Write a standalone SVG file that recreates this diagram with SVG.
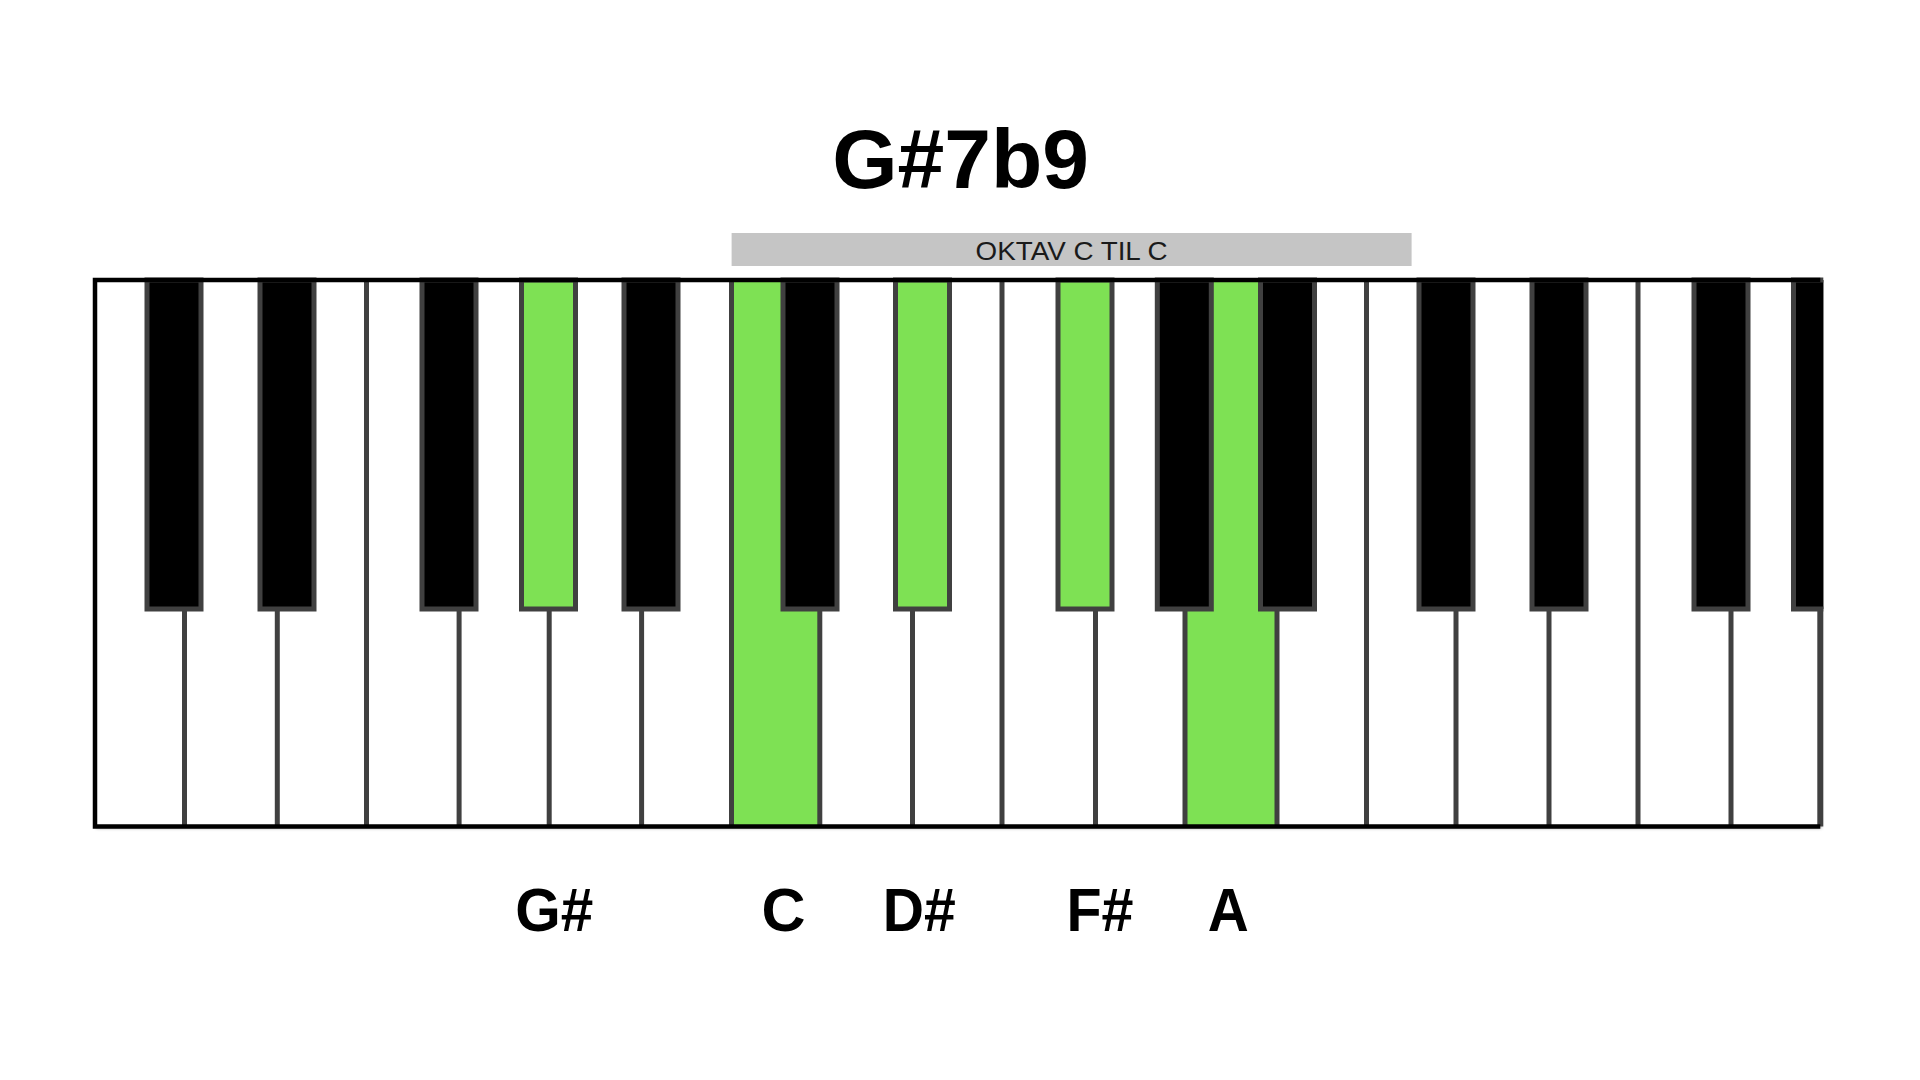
<svg xmlns="http://www.w3.org/2000/svg" width="1920" height="1080" viewBox="0 0 1920 1080">
<defs>
<style>
.title{font-family:"Liberation Sans",Arial,sans-serif;font-weight:bold;font-size:84px;fill:#000;text-anchor:middle}
.bartext{font-family:"Liberation Sans",Arial,sans-serif;font-size:26.5px;fill:#1a1a1a;text-anchor:middle}
.note{font-family:"Liberation Sans",Arial,sans-serif;font-weight:bold;font-size:62px;fill:#000;text-anchor:middle}
.div{stroke:#404040;stroke-width:5}
.bk{fill:#000;stroke:#404040;stroke-width:5}
.on{fill:#7ee154}
</style>
<filter id="sh" x="-2%" y="-3%" width="104%" height="108%">
<feDropShadow dx="1" dy="2" stdDeviation="1.5" flood-color="#000" flood-opacity="0.35"/>
</filter>
<clipPath id="kb"><rect x="90" y="270" width="1733.3" height="570"/></clipPath>
</defs>
<rect width="1920" height="1080" fill="#fff"/>

<g id="title"><text class="title" x="960.7" y="188">G#7b9</text></g>

<g id="octave-bar">
<rect x="731.6" y="233" width="680" height="33" fill="#c5c5c5"/>
<text class="bartext" x="1071.6" y="260" textLength="192" lengthAdjust="spacingAndGlyphs">OKTAV C TIL C</text>
</g>

<g id="keyboard">
<rect x="95" y="280" width="1725.3" height="546.5" fill="#fff" filter="url(#sh)"/>
<g id="white-keys-highlighted">
<rect id="key-C" class="on" x="731.5" y="280" width="88.3" height="546.5"/>
<rect id="key-A" class="on" x="1185" y="280" width="92" height="546.5"/>
</g>
<g id="white-key-dividers">
<line class="div" x1="184.5" y1="280" x2="184.5" y2="826.5"/>
<line class="div" x1="277.3" y1="280" x2="277.3" y2="826.5"/>
<line class="div" x1="366.5" y1="280" x2="366.5" y2="826.5"/>
<line class="div" x1="459.1" y1="280" x2="459.1" y2="826.5"/>
<line class="div" x1="549.2" y1="280" x2="549.2" y2="826.5"/>
<line class="div" x1="641.6" y1="280" x2="641.6" y2="826.5"/>
<line class="div" x1="731.5" y1="280" x2="731.5" y2="826.5"/>
<line class="div" x1="819.8" y1="280" x2="819.8" y2="826.5"/>
<line class="div" x1="912.5" y1="280" x2="912.5" y2="826.5"/>
<line class="div" x1="1002" y1="280" x2="1002" y2="826.5"/>
<line class="div" x1="1095.5" y1="280" x2="1095.5" y2="826.5"/>
<line class="div" x1="1185" y1="280" x2="1185" y2="826.5"/>
<line class="div" x1="1277" y1="280" x2="1277" y2="826.5"/>
<line class="div" x1="1366.5" y1="280" x2="1366.5" y2="826.5"/>
<line class="div" x1="1456" y1="280" x2="1456" y2="826.5"/>
<line class="div" x1="1549" y1="280" x2="1549" y2="826.5"/>
<line class="div" x1="1638" y1="280" x2="1638" y2="826.5"/>
<line class="div" x1="1731" y1="280" x2="1731" y2="826.5"/>
<line x1="1820.3" y1="280" x2="1820.3" y2="826.5" stroke="#404040" stroke-width="6"/>
</g>
<g id="black-keys" clip-path="url(#kb)">
<rect class="bk" x="147" y="280" width="54" height="329"/>
<rect class="bk" x="260" y="280" width="54" height="329"/>
<rect class="bk" x="422" y="280" width="54" height="329"/>
<rect id="key-Gsharp" class="bk on" x="521.5" y="280" width="54" height="329"/>
<rect class="bk" x="624" y="280" width="54" height="329"/>
<rect class="bk" x="783" y="280" width="54" height="329"/>
<rect id="key-Dsharp" class="bk on" x="895.5" y="280" width="54" height="329"/>
<rect id="key-Fsharp" class="bk on" x="1058" y="280" width="54" height="329"/>
<rect class="bk" x="1157.3" y="280" width="54" height="329"/>
<rect class="bk" x="1260.5" y="280" width="54" height="329"/>
<rect class="bk" x="1419" y="280" width="54" height="329"/>
<rect class="bk" x="1532" y="280" width="54" height="329"/>
<rect class="bk" x="1694" y="280" width="54" height="329"/>
<rect class="bk" x="1793.5" y="280" width="54" height="329"/>
</g>
<path d="M1820.3,280 H95 V826.5 H1820.3" fill="none" stroke="#000" stroke-width="4.5"/>
</g>

<g id="note-labels">
<text class="note" x="554.2" y="930.5" textLength="78" lengthAdjust="spacingAndGlyphs">G#</text>
<text class="note" x="783.4" y="930.5" textLength="44" lengthAdjust="spacingAndGlyphs">C</text>
<text class="note" x="919.2" y="930.5" textLength="73" lengthAdjust="spacingAndGlyphs">D#</text>
<text class="note" x="1100" y="930.5" textLength="67" lengthAdjust="spacingAndGlyphs">F#</text>
<text class="note" x="1228.3" y="930.5" textLength="41" lengthAdjust="spacingAndGlyphs">A</text>
</g>
</svg>
